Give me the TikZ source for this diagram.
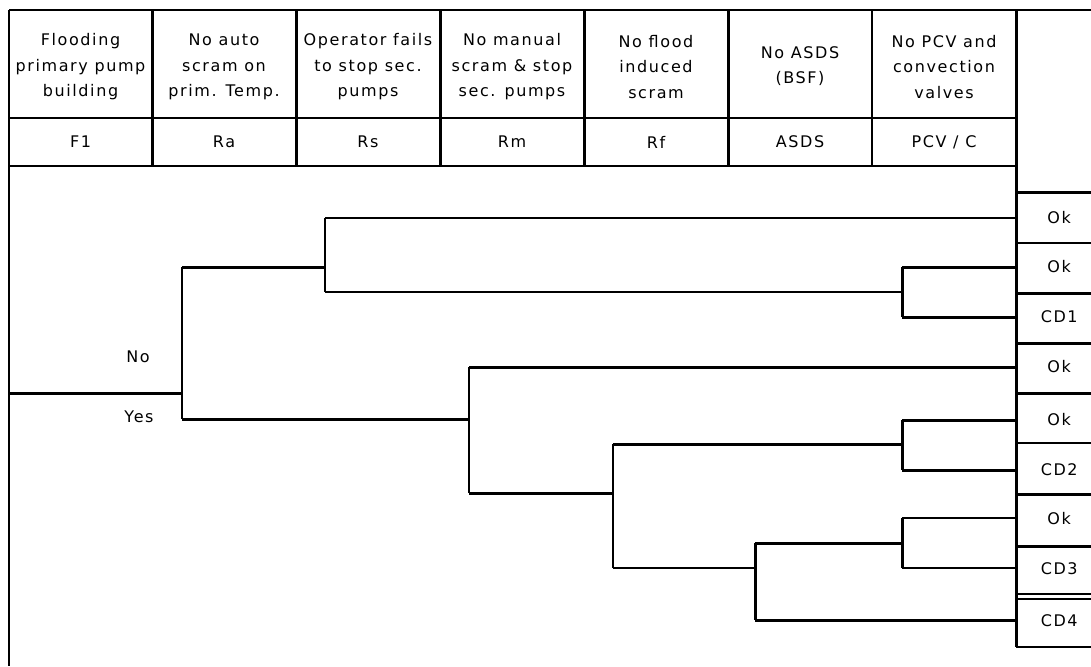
\documentclass[tikz,border=0pt]{standalone}
\usepackage{fontspec}
\setmainfont{DejaVu Sans}[LetterSpace=10]
\begin{document}
\begin{tikzpicture}[x=1pt,y=-1pt,
  thk/.style={line width=3pt},
  thn/.style={line width=1.6pt},
  tab/.style={line width=2pt},
  tabk/.style={line width=3pt},
  hdr/.style={align=center,inner sep=0pt,font=\fontsize{16}{25.5}\selectfont},
  lbl/.style={inner sep=0pt,font=\fontsize{16}{19}\selectfont},
  outc/.style={anchor=west,minimum width=86pt,minimum height=48pt,inner sep=0pt,font=\fontsize{16}{19}\selectfont}]
\useasboundingbox[fill=white] (0,0) rectangle (1091,666);
% ---------- header table ----------
\draw[tab] (9,10) -- (1091,10);
\draw[tab] (9,118) -- (1016,118);
\draw[tab] (9,166) -- (1016,166);
\draw[tab] (9,10) -- (9,666);
\foreach \x in {152,296,440,584,728} {\draw[tabk] (\x,10) -- (\x,166);}
\draw[tab] (872,10) -- (872,166);
\draw[tabk] (1016,10) -- (1016,647);
\node[hdr] (h1) at (80.5,67) {Flooding\\primary pump\\building};
\node[hdr] (h2) at (224,67) {No auto\\scram on\\prim. Temp.};
\node[hdr] (h3) at (368,67) {Operator fails\\to stop sec.\\pumps};
\node[hdr] (h4) at (512,67) {No manual\\scram \& stop\\sec. pumps};
\node[hdr] (h5) at (656,67) {No flood\\induced\\scram};
\node[hdr] (h6) at (800,66) {No ASDS\\(BSF)};
\node[hdr] (h7) at (944,67) {No PCV and\\convection\\valves};
\node[lbl] (c1) at (80.5,142) {F1};
\node[lbl] (c2) at (224,142) {Ra};
\node[lbl] (c3) at (368,142) {Rs};
\node[lbl] (c4) at (512,142) {Rm};
\node[lbl] (c5) at (656,142) {Rf};
\node[lbl] (c6) at (800,142) {ASDS};
\node[lbl] (c7) at (944,142) {PCV / C};
% ---------- outcome boxes ----------
\foreach \y/\w in {192/3,243/1.6,293/3,343/3,393/3,443/1.6,494/3,546/3,594/1.6,599/1.6,647/1.6}
  {\draw[line width=\w pt] (1016,\y) -- (1091,\y);}
\node[outc] (o1) at (1016,218) {Ok};
\node[outc] (o2) at (1016,267) {Ok};
\node[outc] (o3) at (1016,317) {CD1};
\node[outc] (o4) at (1016,367) {Ok};
\node[outc] (o5) at (1016,420) {Ok};
\node[outc] (o6) at (1016,470) {CD2};
\node[outc] (o7) at (1016,519) {Ok};
\node[outc] (o8) at (1016,569) {CD3};
\node[outc] (o9) at (1016,621) {CD4};
% ---------- labels ----------
\node[lbl] (no) at (138,357) {No};
\node[lbl] (yes) at (139,417) {Yes};
% ---------- tree coordinates ----------
\coordinate (R) at (9,393);
\coordinate (A) at (182,393);  \coordinate (At) at (182,267); \coordinate (Ab) at (182,419);
\coordinate (B) at (325,267);  \coordinate (Bt) at (325,218); \coordinate (Bb) at (325,292);
\coordinate (C) at (902,292);  \coordinate (Ct) at (902,267); \coordinate (Cb) at (902,317);
\coordinate (D) at (469,419);  \coordinate (Dt) at (469,367); \coordinate (Db) at (469,493);
\coordinate (E) at (613,493);  \coordinate (Et) at (613,444); \coordinate (Eb) at (613,568);
\coordinate (F) at (902,444);  \coordinate (Ft) at (902,420); \coordinate (Fb) at (902,470);
\coordinate (G) at (755,568);  \coordinate (Gt) at (755,543); \coordinate (Gb) at (755,620);
\coordinate (H) at (902,543);  \coordinate (Ht) at (902,518); \coordinate (Hb) at (902,568);
% ---------- tree ----------
\draw[thk] (R) -- (A);
\draw[thn] (At) -- (Ab);
\draw[thk] (At) -- (B);
\draw[thn] (Bt) -- (Bb);
\draw[thn] (Bt) -- (Bt -| o1.west);
\draw[thn] (Bb) -- (C);
\draw[thk] (Ct) -- (Cb);
\draw[thk] (Ct) -- (Ct -| o2.west);
\draw[thk] (Cb) -- (Cb -| o3.west);
\draw[thk] (Ab) -- (D);
\draw[thn] (Dt) -- (Db);
\draw[thk] (Dt) -- (Dt -| o4.west);
\draw[thk] (Db) -- (E);
\draw[thn] (Et) -- (Eb);
\draw[thk] (Et) -- (F);
\draw[thk] (Ft) -- (Fb);
\draw[thk] (Ft) -- (Ft -| o5.west);
\draw[thk] (Fb) -- (Fb -| o6.west);
\draw[thn] (Eb) -- (G);
\draw[thk] (Gt) -- (Gb);
\draw[thk] (Gt) -- (H);
\draw[thk] (Ht) -- (Hb);
\draw[thn] (Ht) -- (Ht -| o7.west);
\draw[thn] (Hb) -- (Hb -| o8.west);
\draw[thk] (Gb) -- (Gb -| o9.west);
\end{tikzpicture}
\end{document}
